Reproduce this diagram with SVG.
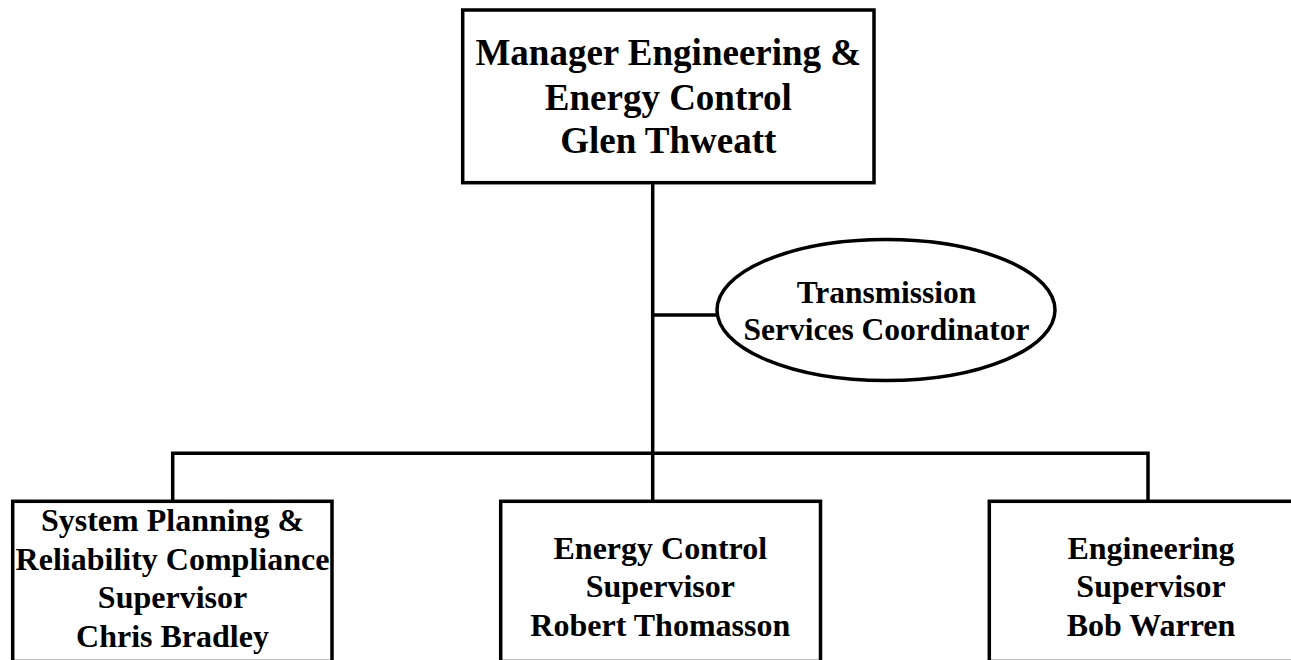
<svg xmlns="http://www.w3.org/2000/svg" width="1291" height="660" viewBox="0 0 1291 660">
<style>
.box{fill:#fff;stroke:#000;stroke-width:3.5}
.ln{fill:none;stroke:#000;stroke-width:3.5}
text{font-family:"Liberation Serif","Times New Roman",serif;font-weight:bold;fill:#000;text-anchor:middle}
.t1{font-size:37px}
.t2{font-size:32px}
.t3{font-size:31.5px}
</style>
<rect width="1291" height="660" fill="#fff"/>
<g id="connectors">
<line class="ln" x1="652.7" y1="182.7" x2="652.7" y2="501.3"/>
<line class="ln" x1="652.7" y1="315" x2="717" y2="315"/>
<polyline class="ln" points="172.7,501.3 172.7,453.3 1148,453.3 1148,501.3"/>
</g>
<g id="manager">
<rect class="box" x="462.7" y="10" width="411.3" height="172.7"/>
<text class="t1" x="668.3" y="65">Manager Engineering &amp;</text>
<text class="t1" x="668.3" y="109.5">Energy Control</text>
<text class="t1" x="668.3" y="153">Glen Thweatt</text>
</g>
<g id="coordinator">
<ellipse class="box" cx="886" cy="310" rx="169" ry="70.5"/>
<text class="t3" x="886.5" y="303">Transmission</text>
<text class="t3" x="886.5" y="340">Services Coordinator</text>
</g>
<g id="planning">
<rect class="box" x="12.7" y="501.3" width="319.3" height="160.2"/>
<text class="t2" x="172.5" y="531">System Planning &amp;</text>
<text class="t2" x="172.5" y="569.5">Reliability Compliance</text>
<text class="t2" x="172.5" y="608">Supervisor</text>
<text class="t2" x="172.5" y="646.5">Chris Bradley</text>
</g>
<g id="energy">
<rect class="box" x="500.7" y="501.3" width="319.8" height="160.2"/>
<text class="t2" x="660.3" y="558.5">Energy Control</text>
<text class="t2" x="660.3" y="597">Supervisor</text>
<text class="t2" x="660.3" y="635.5">Robert Thomasson</text>
</g>
<g id="engineering">
<rect class="box" x="989.3" y="501.3" width="320" height="160.2"/>
<text class="t2" x="1151" y="558.5">Engineering</text>
<text class="t2" x="1151" y="597">Supervisor</text>
<text class="t2" x="1151" y="635.5">Bob Warren</text>
</g>
</svg>
